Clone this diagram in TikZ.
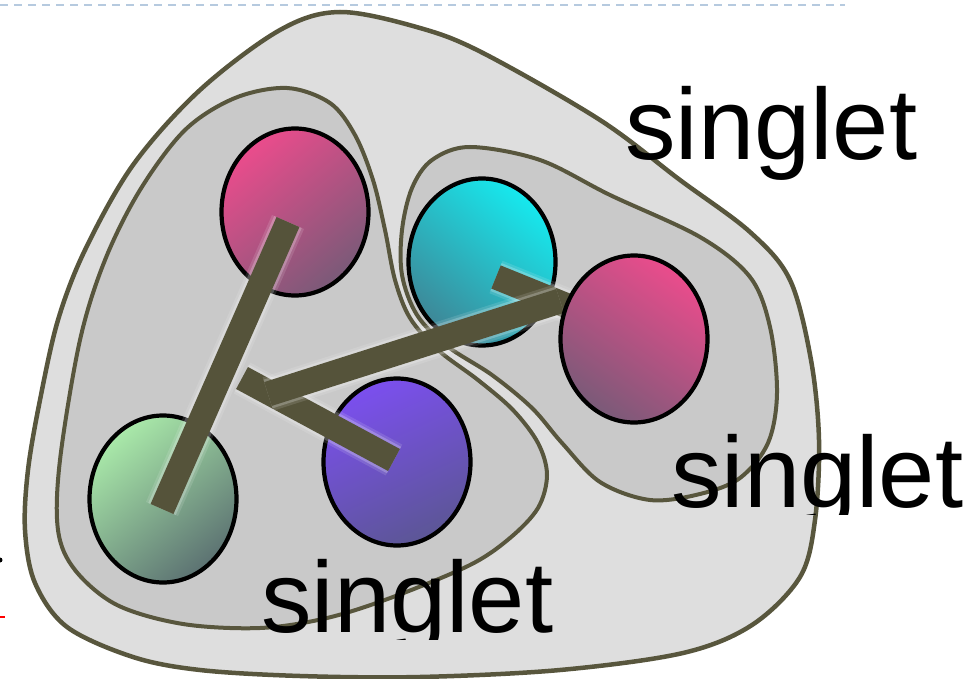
\documentclass[tikz,border=0pt]{standalone}
\usepackage{fontspec}
\setmainfont{Liberation Sans}
\usetikzlibrary{shapes.geometric}
\definecolor{blobline}{HTML}{58563D}
\definecolor{barcol}{HTML}{55533A}
\definecolor{outerfill}{HTML}{DEDEDE}
\definecolor{innerfill}{HTML}{C9C9C9}
\definecolor{dashcol}{HTML}{B6CADF}
\definecolor{pinkhi}{HTML}{EA4C8C}
\definecolor{pinklo}{HTML}{7A5A78}
\definecolor{cyanhi}{HTML}{16E9EE}
\definecolor{cyanlo}{HTML}{3E8797}
\definecolor{greenhi}{HTML}{A9E9A9}
\definecolor{greenlo}{HTML}{5C7272}
\definecolor{violethi}{HTML}{7B4FEE}
\definecolor{violetlo}{HTML}{5C5696}
\begin{document}
\begin{tikzpicture}[x=1pt,y=-1pt,
  outerblob/.style={fill=outerfill, draw=blobline, line width=4.5pt},
  innerblob/.style={fill=innerfill, draw=blobline, line width=4pt},
  ball/.style={ellipse, draw=black, line width=4.2pt, minimum width=147pt, minimum height=167pt, inner sep=0pt},
  bar/.style={draw=barcol, line width=25pt},
  barglowa/.style={draw=white, line width=35pt, opacity=0.12},
  barglowb/.style={draw=white, line width=30pt, opacity=0.22},
  lab/.style={font=\fontsize{101}{110}\selectfont, anchor=base west, inner sep=0pt, text=black}]
\useasboundingbox (0,0) rectangle (977,679);
% top dashed rule and margin marks
\draw[dashcol, line width=2.5pt, dash pattern=on 8pt off 6pt] (0,5) -- (845,5);
\fill[black] (0,560) circle (2.5);
\draw[red, line width=1.5pt] (0,617) -- (5,617);
% outer blob
\draw[outerblob] plot[smooth cycle, tension=0.55] coordinates {
 (340,12) (420,28) (483,53) (600,120) (680,180) (750,232) (790,280) (811,360)
 (819,440) (815,520) (800,577) (752,625) (683,653) (560,670) (420,677)
 (300,676) (200,670) (133,657) (67,627) (35,583) (25,530) (28,470) (40,400)
 (58,320) (85,250) (133,165) (200,90) (280,30)};
% inner left blob
\draw[innerblob] plot[smooth cycle, tension=0.55] coordinates {
 (287,88) (330,103) (355,135) (373,180) (385,230) (395,280) (410,318)
 (438,350) (478,380) (513,410) (538,443) (547,475) (538,508) (510,538)
 (470,565) (393,597) (327,618) (260,628) (183,624) (117,605) (75,570)
 (58,530) (60,460) (80,340) (105,260) (140,190) (185,130) (235,98)};
% inner right blob
\draw[innerblob] plot[smooth cycle, tension=0.55] coordinates {
 (470,147) (540,160) (610,195) (700,237) (750,277) (770,327) (777,393)
 (768,443) (740,478) (700,494) (650,500) (600,482) (562,443) (532,408)
 (492,375) (447,346) (417,315) (402,275) (402,230) (412,188) (432,160)};
% balls
\node[ball, top color=pinkhi, bottom color=pinklo, shading angle=40] (p1) at (295,212) {};
\node[ball, top color=cyanhi, bottom color=cyanlo, shading angle=-40] (c1) at (482,262) {};
\node[ball, top color=greenhi, bottom color=greenlo, shading angle=40] (g1) at (163,499) {};
\node[ball, top color=violethi, bottom color=violetlo, shading angle=25] (v1) at (397,462) {};
% bar ends
\coordinate (aTop) at (288,222);
\coordinate (aBot) at (162,509);
\coordinate (bStart) at (242,378);
\coordinate (bEnd) at (394,460);
\coordinate (cStart) at (268,394);
\coordinate (cEnd) at (560,301);
\coordinate (dStart) at (496,277);
\coordinate (dEnd) at (575,309);
% bars
\foreach \s/\e in {bStart/bEnd, dStart/dEnd, cStart/cEnd, aTop/aBot}{
  \draw[barglowa] (\s) -- (\e);
  \draw[barglowb] (\s) -- (\e);
  \draw[bar] (\s) -- (\e);
}
% right pink ball on top of the bar ends
\node[ball, top color=pinkhi, bottom color=pinklo, shading angle=-35] (p2) at (634,339) {};
% labels
\node[lab] (t1) at (625,160) {singlet};
\begin{scope}
\clip (600,300) rectangle (977,514);
\node[lab] (t2) at (671,507) {singlet};
\end{scope}
\begin{scope}
\clip (200,500) rectangle (600,639);
\node[lab] (t3) at (261,632) {singlet};
\end{scope}
\end{tikzpicture}
\end{document}
